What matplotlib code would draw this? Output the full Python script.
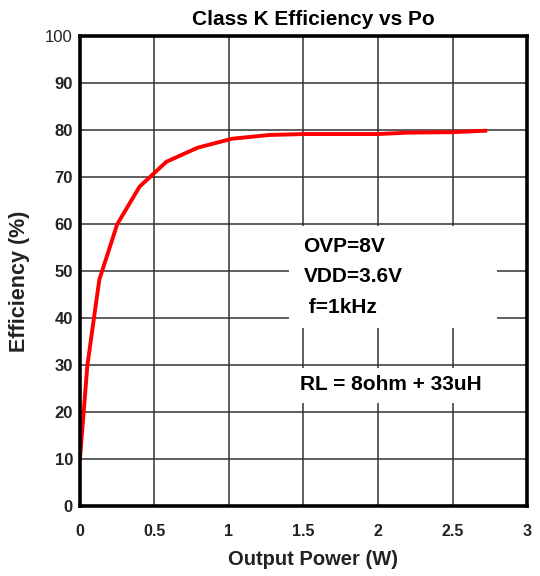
import matplotlib.pyplot as plt
from matplotlib.patches import Rectangle

plt.rcParams['font.family'] = ['Liberation Sans', 'DejaVu Sans']

# output power (W) and efficiency (%)
power = [0.0, 0.05, 0.13, 0.25, 0.40, 0.58, 0.79, 1.02, 1.27, 1.5, 2.0, 2.2, 2.5, 2.72]
efficiency = [10, 30, 48.2, 60, 68, 73.3, 76.3, 78.2, 79.0, 79.2, 79.2, 79.5, 79.6, 79.9]

x_ticks = [0, 0.5, 1, 1.5, 2, 2.5, 3]
x_labels = ['0', '0.5', '1', '1.5', '2', '2.5', '3']
y_ticks = list(range(0, 101, 10))
notes = ['OVP=8V', 'VDD=3.6V', ' f=1kHz']
load_note = 'RL = 8ohm + 33uH'

fig = plt.figure(figsize=(5.4, 5.76), dpi=100)
ax = fig.add_axes([0.148, 0.121, 0.828, 0.816])

ax.plot(power, efficiency, color='#ff0000', linewidth=2.8, zorder=4)

ax.set_xlim(0, 3)
ax.set_ylim(0, 100)
ax.set_xticks(x_ticks)
ax.set_xticklabels(x_labels, fontweight='bold', fontsize=11.5)
ax.set_yticks(y_ticks)
ax.set_yticklabels([str(v) for v in y_ticks], fontweight='bold', fontsize=12)
ax.get_yticklabels()[-1].set_fontweight('normal')
ax.tick_params(length=0, colors='#222222')
ax.tick_params(axis='y', pad=5)
ax.tick_params(axis='x', pad=13)
ax.grid(True, color='#333333', linewidth=1.1)
ax.set_axisbelow(True)
for s in ax.spines.values():
    s.set_linewidth(2.6)
    s.set_color('black')
    s.set_zorder(5)

# white panels behind the notes, covering the grid
ax.add_patch(Rectangle((1.40, 38.0), 1.40, 21.6, facecolor='white', edgecolor='none', zorder=2))
ax.add_patch(Rectangle((1.05, 21.9), 1.90, 7.6, facecolor='white', edgecolor='none', zorder=2))

for i, t in enumerate(notes):
    ax.text(1.50, 55.3 - i * 6.5, t, fontsize=15, fontweight='bold', va='center', ha='left', zorder=3)
ax.text(1.477, 26.0, load_note, fontsize=15, fontweight='bold', va='center', ha='left', zorder=3)

fig.text(0.581, 0.957, 'Class K Efficiency vs Po', fontsize=15, fontweight='bold',
         ha='center', va='baseline')
fig.text(0.58, 0.028, 'Output Power (W)', fontsize=14.5, fontweight='bold', color='#222222',
         ha='center', va='center')
fig.text(0.037, 0.511, 'Efficiency (%)', fontsize=15.5, fontweight='bold', color='#222222',
         ha='center', va='center', rotation=90)

fig.savefig('out.png', dpi=100)
